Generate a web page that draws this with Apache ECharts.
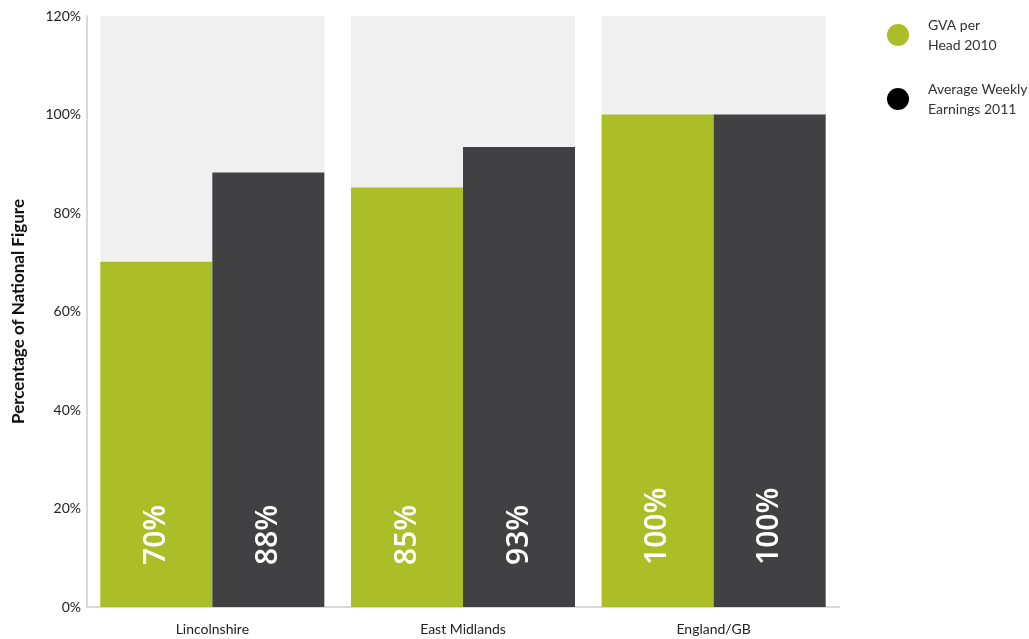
<!DOCTYPE html>
<html>
<head>
<meta charset="utf-8">
<script src="https://cdn.jsdelivr.net/npm/echarts@6/dist/echarts.min.js"></script>
<style>html,body{margin:0;padding:0;background:#fff;}#c{width:1029px;height:639px;}</style>
</head>
<body>
<div id="c"></div>
<script>
const categories = ['Lincolnshire', 'East Midlands', 'England/GB'];
const gvaPerHead2010 = [70.1, 85.2, 100];
const avgWeeklyEarnings2011 = [88.2, 93.4, 100];
const seriesNames = ['GVA per\nHead 2010', 'Average Weekly\nEarnings 2011'];
const yTicks = [0, 20, 40, 60, 80, 100, 120];

const FONT = 'Lato';
const chart = echarts.init(document.getElementById('c'));
const barLabel = {
  show: true,
  position: 'insideBottom',
  rotate: 90,
  align: 'left',
  verticalAlign: 'middle',
  distance: 42,
  color: '#ffffff',
  fontSize: 30,
  fontWeight: 600,
  fontFamily: 'Open Sans',
  formatter: p => Math.round(p.value) + '%'
};
chart.setOption({
  animation: false,
  grid: { left: 87, width: 752, top: 16, bottom: 32, containLabel: false, outerBoundsMode: 'none' },
  legend: {
    orient: 'vertical',
    left: 882,
    top: 10,
    icon: 'circle',
    itemWidth: 22,
    itemHeight: 22,
    itemGap: 24,
    textStyle: { fontFamily: FONT, fontSize: 14, color: '#333', lineHeight: 20, padding: [0, 0, 0, 14] },
    data: [
      { name: seriesNames[0], itemStyle: { color: '#abbd27' } },
      { name: seriesNames[1], itemStyle: { color: '#000000' } }
    ]
  },
  xAxis: {
    type: 'category',
    data: categories,
    axisLine: { lineStyle: { color: '#d9d9d9', width: 2 } },
    axisTick: { show: false },
    axisLabel: { fontFamily: FONT, fontSize: 14, color: '#222', margin: 15 }
  },
  yAxis: {
    type: 'value',
    min: yTicks[0],
    max: yTicks[yTicks.length - 1],
    interval: 20,
    name: 'Percentage of National Figure',
    nameLocation: 'middle',
    nameGap: 60,
    nameTextStyle: { fontFamily: FONT, fontSize: 17, fontWeight: 'bold', color: '#111' },
    axisLine: { show: true, lineStyle: { color: '#d9d9d9', width: 2 } },
    axisTick: { show: false },
    splitLine: { show: false },
    axisLabel: { fontFamily: FONT, fontSize: 14, color: '#222', margin: 6, formatter: v => v + '%' }
  },
  series: [
    {
      name: seriesNames[0],
      type: 'bar',
      data: gvaPerHead2010,
      barWidth: 112,
      barGap: '0%',
      itemStyle: { color: '#abbd27' },
      showBackground: true,
      backgroundStyle: { color: '#f0f0f0' },
      label: barLabel
    },
    {
      name: seriesNames[1],
      type: 'bar',
      data: avgWeeklyEarnings2011,
      barWidth: 112,
      barGap: '0%',
      itemStyle: { color: '#414042' },
      showBackground: true,
      backgroundStyle: { color: '#f0f0f0' },
      label: barLabel
    }
  ]
});
</script>
</body>
</html>
